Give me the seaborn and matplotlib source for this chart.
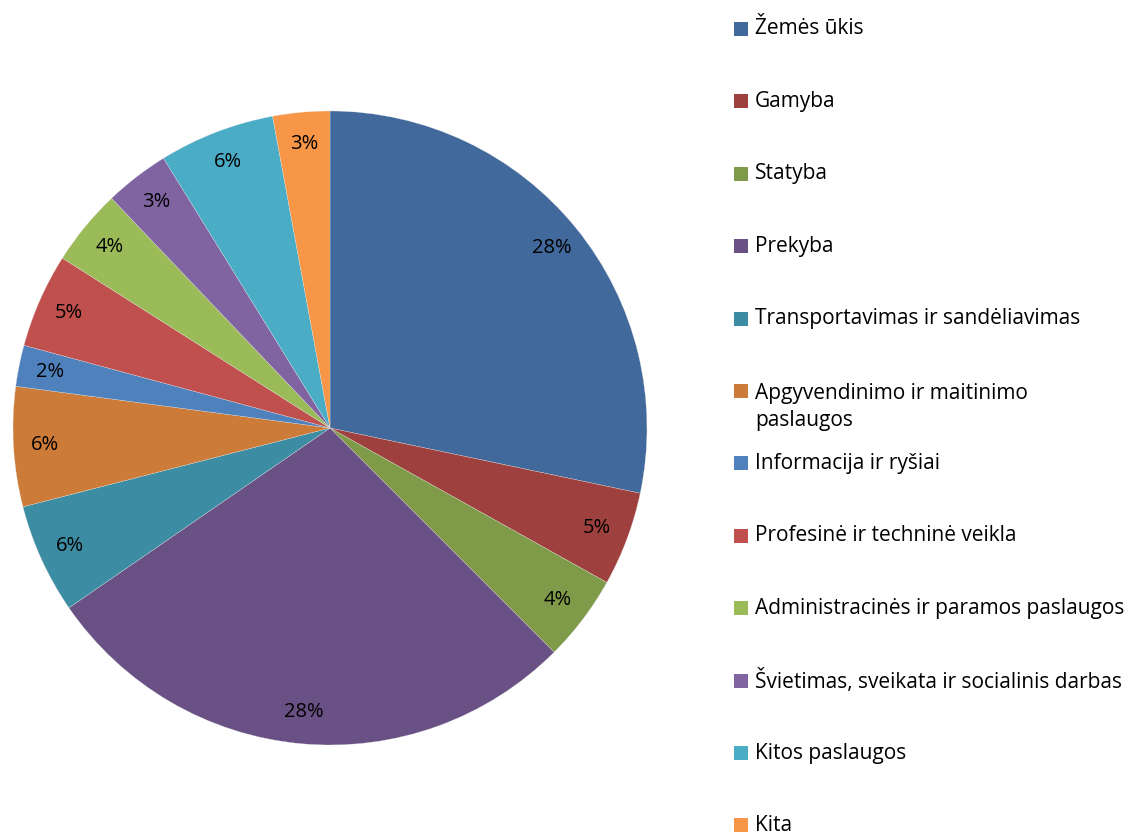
import matplotlib
matplotlib.use("Agg")
import matplotlib.pyplot as plt
from matplotlib.patches import Rectangle
import seaborn as sns

categories = [
    "Žemės ūkis",
    "Gamyba",
    "Statyba",
    "Prekyba",
    "Transportavimas ir sandėliavimas",
    "Apgyvendinimo ir maitinimo\npaslaugos",
    "Informacija ir ryšiai",
    "Profesinė ir techninė veikla",
    "Administracinės ir paramos paslaugos",
    "Švietimas, sveikata ir socialinis darbas",
    "Kitos paslaugos",
    "Kita",
]
values = [28.3, 4.8, 4.4, 27.9, 5.6, 6.1, 2.1, 4.8, 3.9, 3.3, 5.9, 2.9]
colors = ["#41699B", "#9E413E", "#7F9A48", "#695185", "#3C8DA3", "#CC7B38",
          "#4F81BD", "#C0504D", "#9BBB59", "#8064A2", "#4BACC6", "#F79646"]

sns.set_theme(style="white")
plt.rcParams["font.family"] = ["Open Sans", "DejaVu Sans"]

W, H = 1127, 834
fig = plt.figure(figsize=(W / 100, H / 100), dpi=100)
fig.patch.set_facecolor("white")

cx, cy, r = 330, 428, 317
ax = fig.add_axes([(cx - r) / W, (H - cy - r) / H, 2 * r / W, 2 * r / H])
wedges, texts, autotexts = ax.pie(
    values, colors=colors, startangle=90, counterclock=False,
    autopct=lambda p: f"{p:.0f}%", pctdistance=0.9, radius=1,
    wedgeprops=dict(edgecolor="#e8e8e8", linewidth=0.2),
    textprops=dict(fontsize=14.5, color="black"),
)
ax.set_xlim(-1, 1)
ax.set_ylim(-1, 1)
ax.set_aspect("auto")
ax.axis("off")

# legend drawn at uniform spacing, like the original
x_box, x_txt = 734, 755
y0, step, box = 29, 72.4, 14
fs = 15
for i, (lab, col) in enumerate(zip(categories, colors)):
    yc = y0 + i * step
    fig.add_artist(Rectangle((x_box / W, (H - yc - box / 2) / H), box / W, box / H,
                             transform=fig.transFigure, facecolor=col, edgecolor="none"))
    if "\n" in lab:
        fig.text(x_txt / W, (H - yc + 8) / H, lab, fontsize=fs, color="black",
                 va="top", ha="left", linespacing=1.4)
    else:
        fig.text(x_txt / W, (H - yc) / H, lab, fontsize=fs, color="black",
                 va="center", ha="left")

fig.savefig("out.png", dpi=100, facecolor="white")
